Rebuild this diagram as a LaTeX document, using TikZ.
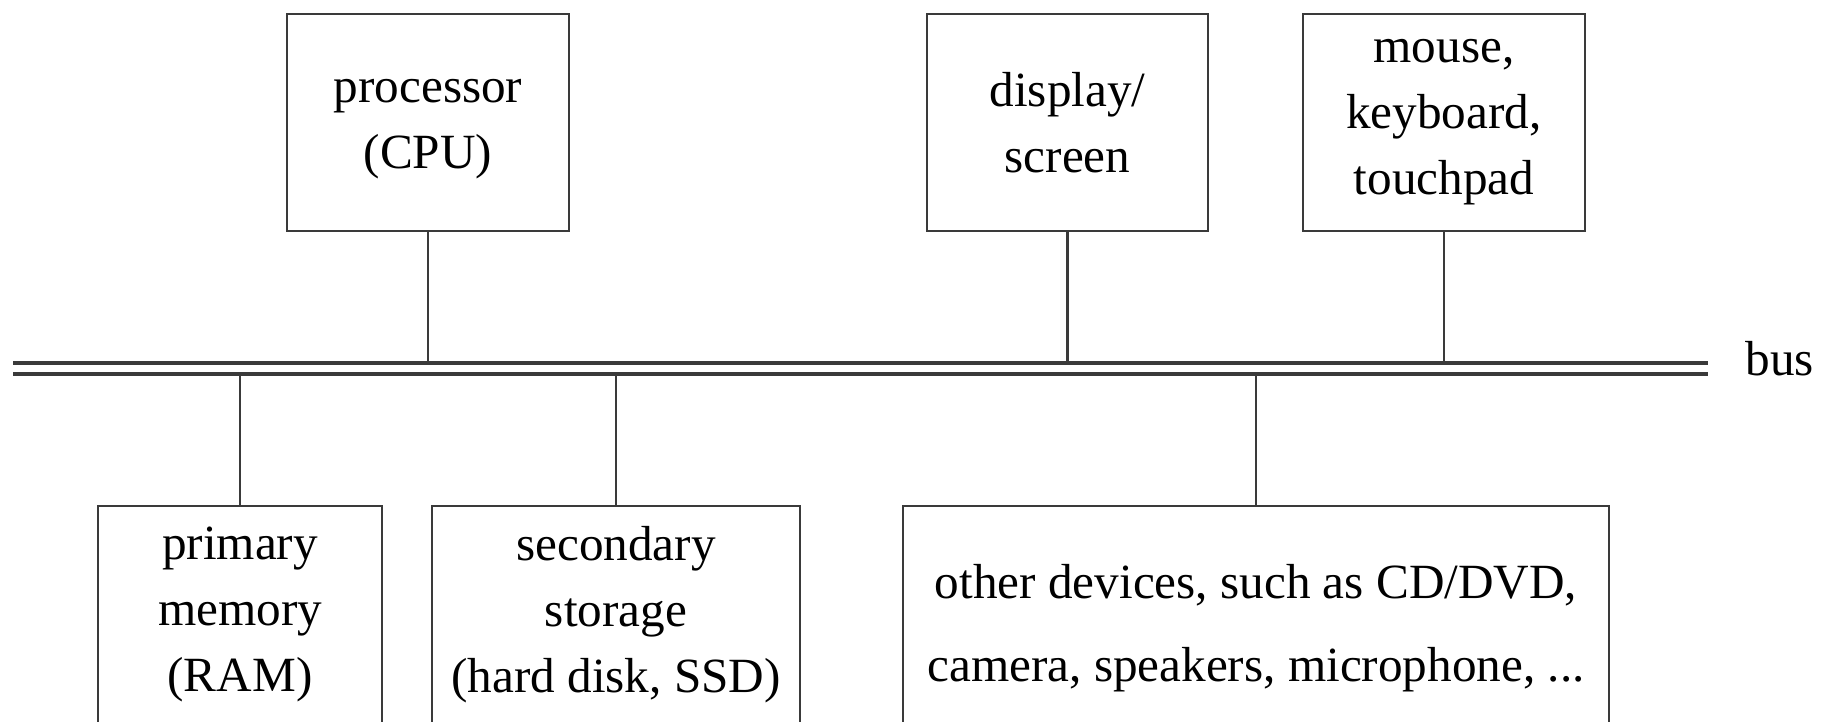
\documentclass[tikz,border=0pt]{standalone}
\usepackage{fontspec}
\setmainfont{Liberation Serif}
\usetikzlibrary{positioning}
\definecolor{LineGray}{HTML}{3A3A3A}

\begin{document}
\begin{tikzpicture}[
        unit/.style={rectangle, draw=LineGray, line width=0.8pt, minimum height=2.17cm, align=center, inner sep=0pt, font=\fontsize{14}{18.8}\selectfont},
        wire/.style={LineGray, line width=0.7pt},
        busline/.style={LineGray, line width=0.9pt}
      ]
        \useasboundingbox (0,0) rectangle (18.29,7.22);
        \clip (0,0) rectangle (18.29,7.22);

        % bus
        \coordinate (bustop) at (0.13,3.59);
        \coordinate (busbot) at (0.13,3.48);
        \draw[busline] (bustop) -- ++(16.95,0) coordinate (bustopend);
        \draw[busline] (busbot) -- ++(16.95,0) coordinate (busbotend);
        \node[anchor=base west, inner sep=0pt, font=\fontsize{14}{18.8}\selectfont] (buslabel) at (17.45,3.46) {bus};

        % units above the bus
        \node[unit, minimum width=2.82cm] (cpu) at (4.28,5.995) {\rule[-0.25em]{0pt}{1em}processor \\ (CPU)};
        \node[unit, minimum width=2.81cm] (disp) at (10.675,5.995) {display/ \\ screen};
        \node[unit, minimum width=2.82cm] (input) at (14.44,5.995) {mouse, \\ keyboard, \\ touchpad};

        % units below the bus
        \node[unit, minimum width=2.84cm] (ram) at (2.40,1.075) {primary \\ memory \\ (RAM)};
        \node[unit, minimum width=3.68cm] (disk) at (6.16,1.075) {secondary \\ storage \\ (hard disk, SSD)};
        \node[unit, minimum width=7.06cm] (other) at (12.56,1.075) {\rule{0pt}{17.5pt}other devices, such as CD/DVD, \\[5pt] camera, speakers, microphone, ...};

        \draw[wire] (cpu) -- (cpu |- bustop);
        \draw[wire] (disp) -- (disp |- bustop);
        \draw[wire] (input) -- (input |- bustop);
        \draw[wire] (ram) -- (ram |- busbot);
        \draw[wire] (disk) -- (disk |- busbot);
        \draw[wire] (other) -- (other |- busbot);
      \end{tikzpicture}
\end{document}
